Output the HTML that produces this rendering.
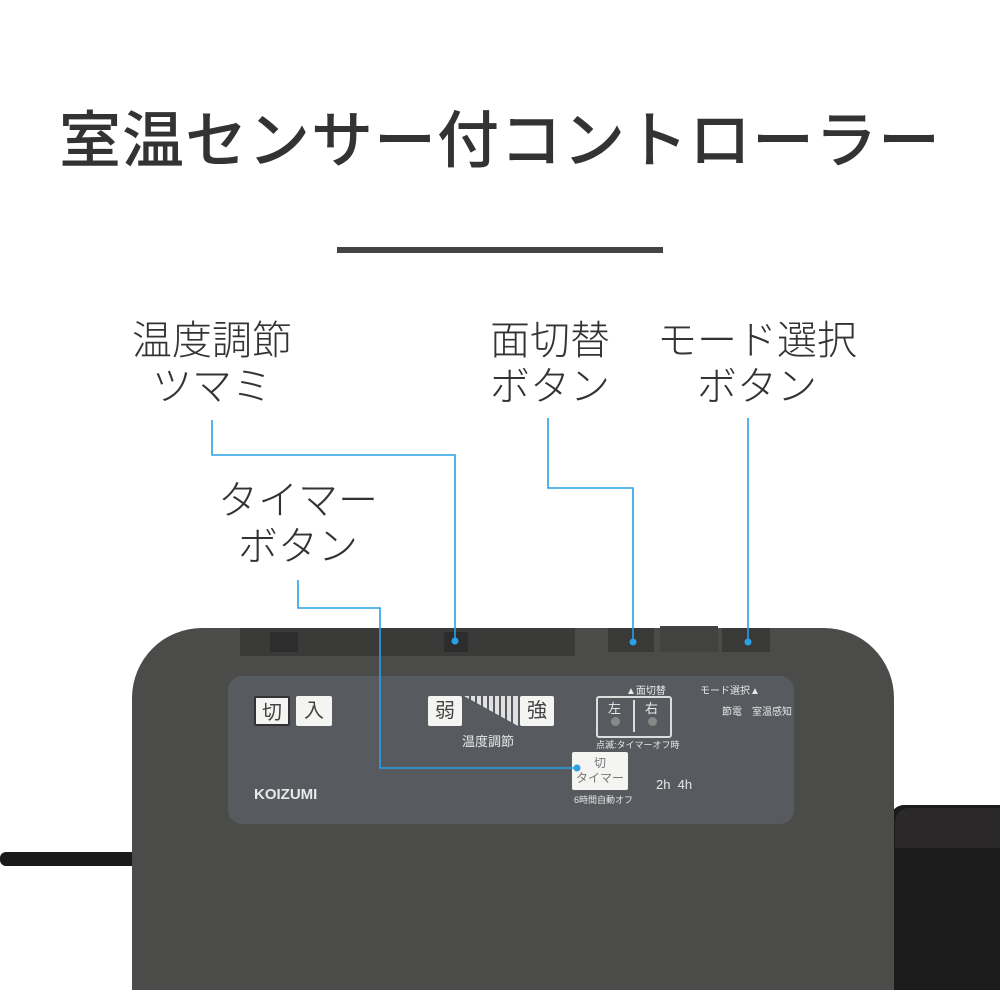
<!DOCTYPE html>
<html><head><meta charset="utf-8"><style>
body{margin:0;width:1000px;height:1000px;background:#fff;position:relative;overflow:hidden;font-family:"Liberation Sans","Noto Sans CJK JP",sans-serif}
.a{position:absolute}
.t{position:absolute;left:0;width:1000px;text-align:center;top:90px;font-size:62px;font-weight:500;color:#333;letter-spacing:1px}
.lbl{position:absolute;font-size:40px;color:#333;text-align:center;line-height:46px;font-weight:300}
.key{position:absolute;background:#f4f4f2;color:#444;text-align:center;border-radius:2px}
.sm{position:absolute;color:#e8e8e8;font-size:10px;white-space:nowrap}
</style></head><body>
<div class="t">室温センサー付コントローラー</div>
<div class="a" style="left:337px;top:247px;width:326px;height:6px;background:#444"></div>

<div class="lbl" style="left:112px;top:318px;width:200px">温度調節<br>ツマミ</div>
<div class="lbl" style="left:200px;top:478px;width:196px">タイマー<br>ボタン</div>
<div class="lbl" style="left:470px;top:318px;width:160px">面切替<br>ボタン</div>
<div class="lbl" style="left:650px;top:318px;width:214px">モード選択<br>ボタン</div>

<div class="a" style="left:890px;top:805px;width:120px;height:185px;background:#1c1b1c;border-radius:14px 0 0 0"></div>
<div class="a" style="left:895px;top:808px;width:110px;height:40px;background:#2a2828;border-radius:14px 0 0 0"></div>
<div class="a" style="left:0;top:852px;width:140px;height:14px;background:#1a1a1a;border-radius:6px"></div>
<div class="a" style="left:132px;top:628px;width:762px;height:362px;background:#4b4b49;border-radius:70px 70px 0 0"></div>
<div class="a" style="left:240px;top:628px;width:335px;height:28px;background:#3a3a39"></div>
<div class="a" style="left:608px;top:628px;width:46px;height:24px;background:#393938"></div>
<div class="a" style="left:660px;top:626px;width:58px;height:26px;background:#424241"></div>
<div class="a" style="left:722px;top:628px;width:48px;height:24px;background:#393938"></div>
<div class="a" style="left:270px;top:632px;width:28px;height:20px;background:#2d2d2d"></div>
<div class="a" style="left:444px;top:632px;width:24px;height:20px;background:#2d2d2d"></div>
<div class="a" style="left:228px;top:676px;width:566px;height:148px;background:#575a5f;border-radius:14px"></div>
<div class="key" style="left:254px;top:696px;width:36px;height:30px;font-size:20px;line-height:30px;border:2px solid #333;box-sizing:border-box">切</div>
<div class="key" style="left:296px;top:696px;width:36px;height:30px;font-size:20px;line-height:30px">入</div>
<div class="key" style="left:428px;top:696px;width:34px;height:30px;font-size:20px;line-height:30px">弱</div>
<div class="key" style="left:520px;top:696px;width:34px;height:30px;font-size:20px;line-height:30px">強</div>
<svg class="a" style="left:464px;top:696px" width="54" height="30"><polygon points="0,0 54,0 54,30" fill="#e0e0e0"/><g stroke="#575a5f" stroke-width="2"><line x1="6" y1="0" x2="6" y2="30"/><line x1="12" y1="0" x2="12" y2="30"/><line x1="18" y1="0" x2="18" y2="30"/><line x1="24" y1="0" x2="24" y2="30"/><line x1="30" y1="0" x2="30" y2="30"/><line x1="36" y1="0" x2="36" y2="30"/><line x1="42" y1="0" x2="42" y2="30"/><line x1="48" y1="0" x2="48" y2="30"/></g></svg>
<div class="sm" style="left:462px;top:731px;font-size:13px">温度調節</div>
<div class="a" style="left:596px;top:696px;width:72px;height:38px;border:2px solid #ddd;border-radius:3px"></div>
<div class="a" style="left:633px;top:700px;width:2px;height:32px;background:#ddd"></div>
<div class="sm" style="left:608px;top:698px;font-size:13px">左</div>
<div class="sm" style="left:645px;top:698px;font-size:13px">右</div>
<div class="a" style="left:611px;top:717px;width:9px;height:9px;border-radius:50%;background:#888"></div>
<div class="a" style="left:648px;top:717px;width:9px;height:9px;border-radius:50%;background:#888"></div>
<div class="sm" style="left:626px;top:682px">▲面切替</div>
<div class="sm" style="left:700px;top:682px">モード選択▲</div>
<div class="sm" style="left:722px;top:703px">節電　室温感知</div>
<div class="sm" style="left:596px;top:738px;font-size:9px">点滅:タイマーオフ時</div>
<div class="key" style="left:572px;top:752px;width:56px;height:38px;font-size:12px;line-height:15px;color:#777;padding-top:4px;box-sizing:border-box">切<br>タイマー</div>
<div class="sm" style="left:574px;top:793px;font-size:9px">6時間自動オフ</div>
<div class="sm" style="left:656px;top:777px;font-size:13px">2h&nbsp;&nbsp;4h</div>
<div class="sm" style="left:254px;top:786px;font-size:15px;font-weight:bold">KOIZUMI</div>

<svg class="a" style="left:0;top:0" width="1000" height="1000"><g fill="none" stroke="#2aa0e6" stroke-width="1.6">
<polyline points="212,420 212,455 455,455 455,641"/>
<polyline points="298,580 298,608 380,608 380,768 577,768"/>
<polyline points="548,418 548,488 633,488 633,642"/>
<polyline points="748,418 748,642"/></g>
<g fill="#2aa0e6"><circle cx="455" cy="641" r="3.5"/><circle cx="577" cy="768" r="3.5"/><circle cx="633" cy="642" r="3.5"/><circle cx="748" cy="642" r="3.5"/></g></svg>
</body></html>
